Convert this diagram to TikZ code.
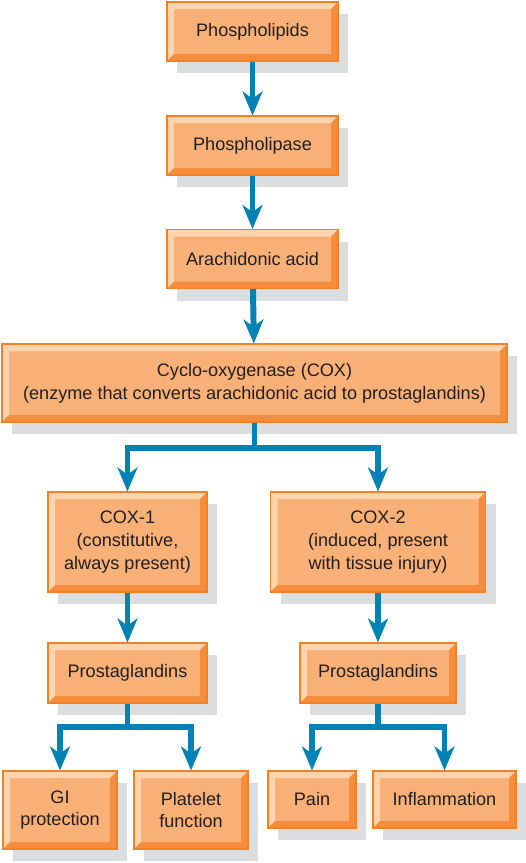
\documentclass[tikz,border=0pt]{standalone}
\usepackage{fontspec}
\setmainfont{Liberation Sans}
\usetikzlibrary{arrows.meta,shadows}

\definecolor{boxfill}{HTML}{F9B077}
\definecolor{boxlight}{HTML}{FDD4AD}
\definecolor{boxdark}{HTML}{F68D3C}
\definecolor{boxline}{HTML}{F28124}
\definecolor{shade}{HTML}{DCDDDE}
\definecolor{flowblue}{HTML}{0082B5}
\definecolor{ink}{HTML}{231F20}

\tikzset{
  stepbox/.style={rectangle, fill=boxfill, draw=boxline, line width=0.6pt,
    text=ink, align=center, inner sep=0pt,
    font=\fontsize{10.3}{13}\selectfont,
    drop shadow={shadow xshift=0.2cm, shadow yshift=-0.24cm, fill=shade, opacity=1},
    path picture={
      \coordinate (bsw) at (path picture bounding box.south west);
      \coordinate (bnw) at (path picture bounding box.north west);
      \coordinate (bne) at (path picture bounding box.north east);
      \coordinate (bse) at (path picture bounding box.south east);
      \fill[boxlight] (bsw) -- (bnw) -- (bne) -- ([shift={(-0.14,-0.14)}]bne)
        -- ([shift={(0.14,-0.14)}]bnw) -- ([shift={(0.14,0.14)}]bsw) -- cycle;
      \fill[boxdark] (bsw) -- (bse) -- (bne) -- ([shift={(-0.14,-0.14)}]bne)
        -- ([shift={(-0.14,0.14)}]bse) -- ([shift={(0.14,0.14)}]bsw) -- cycle;
    }},
  flow/.style={draw=flowblue, line width=3.4pt,
    -{Stealth[length=13.6pt,width=11.3pt,inset=4pt]}}
}

\begin{document}
\begin{tikzpicture}
  \useasboundingbox (0,0) rectangle (10.5,-17.26);

  % main chain
  \node[stepbox, minimum width=3.42cm, minimum height=1.18cm] (phl) at (5.05,-0.63) {Phospholipids};
  \node[stepbox, minimum width=3.42cm, minimum height=1.18cm] (pla) at (5.05,-2.91) {Phospholipase};
  \node[stepbox, minimum width=3.42cm, minimum height=1.18cm] (ara) at (5.05,-5.18) {Arachidonic acid};
  \node[stepbox, minimum width=10.1cm, minimum height=1.56cm] (cox) at (5.09,-7.66)
    {Cyclo-oxygenase (COX)\\(enzyme that converts arachidonic acid to prostaglandins)};

  % the two isoforms
  \node[stepbox, minimum width=3.18cm, minimum height=2cm] (cox1) at (2.55,-10.84)
    {COX-1\\(constitutive,\\always present)};
  \node[stepbox, minimum width=4.3cm, minimum height=2cm] (cox2) at (7.56,-10.84)
    {COX-2\\(induced, present\\with tissue injury)};
  \node[stepbox, minimum width=3.18cm, minimum height=1.2cm] (pgl) at (2.55,-13.46) {Prostaglandins};
  \node[stepbox, minimum width=3.12cm, minimum height=1.2cm] (pgr) at (7.56,-13.46) {Prostaglandins};

  % effects
  \node[stepbox, minimum width=2.28cm, minimum height=1.56cm] (gi) at (1.2,-16.2) {GI\\protection};
  \node[stepbox, minimum width=2.28cm, minimum height=1.56cm] (plt) at (3.82,-16.2) {Platelet\\function};
  \node[stepbox, minimum width=1.76cm, minimum height=1.14cm] (pain) at (6.24,-15.99) {Pain};
  \node[stepbox, minimum width=2.86cm, minimum height=1.14cm] (infl) at (8.89,-15.99) {Inflammation};

  \coordinate (fcox) at (5.09,-8.96);
  \coordinate (fpgl) at (2.55,-14.54);
  \coordinate (fpgr) at (7.56,-14.54);

  \draw[flow] (phl) -- (pla);
  \draw[flow] (pla) -- (ara);
  \draw[flow] (ara) -- (cox);
  \draw[flow] (cox.south -| fcox) -- (fcox) -| (cox1);
  \draw[flow] (fcox) -| (cox2);
  \draw[flow] (cox1) -- (pgl);
  \draw[flow] (cox2) -- (pgr);
  \draw[flow] (pgl) -- (fpgl) -| (gi);
  \draw[flow] (fpgl) -| (plt);
  \draw[flow] (pgr) -- (fpgr) -| (pain);
  \draw[flow] (fpgr) -| (infl);
\end{tikzpicture}
\end{document}
